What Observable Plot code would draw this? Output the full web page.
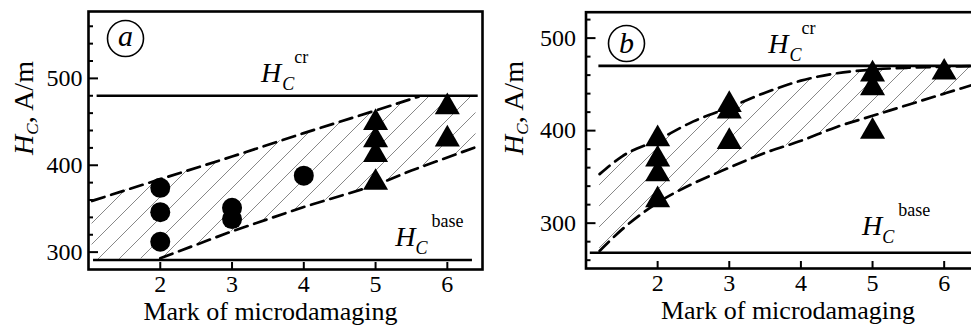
<!DOCTYPE html>
<html><head><meta charset="utf-8">
<script src="https://cdn.jsdelivr.net/npm/d3@7"></script>
<script src="https://cdn.jsdelivr.net/npm/@observablehq/plot@0.6"></script>
<style>
html,body{margin:0;padding:0;background:#fff;overflow:hidden}
#wrap{position:relative;width:971px;height:327px;overflow:hidden;background:#fff}
#pa{position:absolute;left:0;top:0;width:490px;height:327px}
#pb{position:absolute;left:490px;top:0;width:490px;height:327px}
svg text{font-family:"Liberation Serif","DejaVu Serif",serif}
</style></head><body>
<svg width="0" height="0" style="position:absolute">
<defs>
<pattern id="hatch" patternUnits="userSpaceOnUse" width="21" height="21">
<path d="M-2,2 L2,-2 M0,21 L21,0 M19,23 L23,19" stroke="#6a6a6a" stroke-width="0.8" fill="none"/>
</pattern></defs></svg>
<div id="wrap"><div id="pa"></div><div id="pb"></div></div>
<script>
// ---------- shared ----------
const xTicks = [2, 3, 4, 5, 6];
const xTitle = "Mark of microdamaging";

// ---------- panel a ----------
const aCircX = [2, 2, 2, 3, 3, 4];
const aCircY = [374, 346, 312, 351, 338, 388];
const aTriX = [5, 5, 5, 5, 6, 6];
const aTriY = [449, 429, 412, 380, 467, 430];
const aUpperX = [1.05, 2, 3, 4, 5, 5.6];
const aUpperY = [359, 384, 410, 437, 463, 479];
const aLowerX = [2, 3, 4, 5, 5.5, 6.4];
const aLowerY = [293, 324, 352, 377, 394, 421];
const aHatchX = [1.05, 2, 3, 4, 5, 5.6, 6.4];
const aHatchTop = [359, 384, 410, 437, 463, 480, 480];
const aHatchBottom = [291, 293, 324, 352, 377, 397, 421];
const aCr = {y: 480, x1: 1.12, x2: 6.43};
const aBase = {y: 291, x1: 1.07, x2: 6.35};
const aYTicks = [300, 400, 500];
const aYMinor = [320, 340, 360, 380, 420, 440, 460, 480, 520, 540, 560];
const aCrLabel = [3.41, 495];
const aBaseLabel = [5.28, 306.5];

// ---------- panel b ----------
const bTriX = [2, 2, 2, 2, 3, 3, 3, 5, 5, 5, 6];
const bTriY = [391, 369, 353, 325, 428, 421, 388, 461, 446, 399, 463];
const bCurveX = [1.19, 1.5, 2, 2.5, 3, 3.5, 4, 4.5, 5, 5.5, 6, 6.5];
const bUpperY = [353, 372, 390, 410, 425, 441, 454, 462, 466, 468, 469, 470];
const bLowerY = [270, 293, 322, 343, 360, 376, 389, 404, 416, 428, 440, 452];
const bCr = {y: 470, x1: 1.18, x2: 6.5};
const bBase = {y: 268, x1: 1.06, x2: 6.5};
const bYTicks = [300, 400, 500];
const bYMinor = [260, 280, 320, 340, 360, 380, 420, 440, 460, 480, 520];
const bCrLabel = [3.55, 483.4];
const bBaseLabel = [4.86, 286.5];

const FONT = "Liberation Serif, DejaVu Serif, serif";

function panel(o) {
  const fw = o.width - o.marginLeft - o.marginRight;
  const fh = o.height - o.marginTop - o.marginBottom;
  const pts = (xs, ys) => xs.map((x, i) => ({x, y: ys[i]}));
  const chart = Plot.plot({
    width: o.width, height: o.height,
    marginLeft: o.marginLeft, marginRight: o.marginRight,
    marginTop: o.marginTop, marginBottom: o.marginBottom,
    x: {domain: o.xDomain},
    y: {domain: o.yDomain},
    style: {fontFamily: FONT, fontSize: "24px", color: "black", background: "transparent", maxWidth: "none"},
    marks: [
      Plot.areaY(o.hatchX.map((x, i) => ({x, y1: o.hatchBottom[i], y2: o.hatchTop[i]})),
        {x: "x", y1: "y1", y2: "y2", fill: "url(#hatch)", curve: o.curve}),
      Plot.ruleY([o.cr, o.base], {y: "y", x1: "x1", x2: "x2", stroke: "black", strokeWidth: 2.6}),
      Plot.line(pts(o.upperX, o.upperY), {x: "x", y: "y", stroke: "black", strokeWidth: 2.7, strokeDasharray: "13,7", curve: o.curve}),
      Plot.line(pts(o.lowerX, o.lowerY), {x: "x", y: "y", stroke: "black", strokeWidth: 2.7, strokeDasharray: "13,7", curve: o.curve}),
      o.circX ? Plot.dot(pts(o.circX, o.circY), {x: "x", y: "y", r: 10, fill: "black", symbol: "circle"}) : null,
      Plot.dot(pts(o.triX, o.triY), {x: "x", y: "y", r: 9.3, fill: "black", symbol: "triangle"}),
      Plot.ruleY(o.yTicks, {stroke: "black", strokeWidth: 2, insetRight: fw - 10}),
      Plot.ruleY(o.yMinor, {stroke: "black", strokeWidth: 2, insetRight: fw - 5}),
      Plot.ruleX(xTicks, {stroke: "black", strokeWidth: 2, insetTop: fh - 7}),
      Plot.axisY(o.yTicks, {anchor: "left", tickSize: 0, tickPadding: o.yPad, fontSize: 24, fontFamily: FONT, label: null}),
      Plot.axisX(xTicks, {anchor: "bottom", tickSize: 0, tickPadding: 5, fontSize: 24, fontFamily: FONT, label: null}),
      Plot.frame({stroke: "black", strokeWidth: 2.6}),
      Plot.dot([0], {frameAnchor: "top-left", dx: o.circDx, dy: o.circDy, r: 18, stroke: "black", strokeWidth: 1.6, fill: "white"}),
      Plot.text([o.letter], {frameAnchor: "top-left", textAnchor: "middle", lineAnchor: "middle", dx: o.circDx, dy: o.circDy + o.letterDy, fontSize: 30, fontStyle: "italic", fontFamily: FONT, fill: "black"}),
      Plot.text([xTitle], {frameAnchor: "bottom", textAnchor: "middle", dx: o.titleDx, dy: 50, lineAnchor: "bottom", fontSize: 26, fontFamily: FONT, fill: "black"})
    ].filter(Boolean)
  });
  const sx = chart.scale("x"), sy = chart.scale("y");
  const svg = d3.select(chart);
  function hLabel([x, y], sup, cDx, supDx) {
    const t = svg.append("text")
      .attr("x", sx.apply(x)).attr("y", sy.apply(y)).attr("text-anchor", "start")
      .attr("font-family", FONT).attr("fill", "black");
    t.append("tspan").attr("font-style", "italic").attr("font-size", 28).text("H");
    t.append("tspan").attr("font-style", "italic").attr("font-size", 18).attr("dx", cDx).attr("dy", 8).text("C");
    t.append("tspan").attr("font-size", 18).attr("dx", supDx).attr("dy", -27).text(sup);
  }
  hLabel(o.crLabel, "cr", 1, 0);
  hLabel(o.baseLabel, "base", 0, 4);
  // y title
  const yt = svg.append("text")
    .attr("transform", `translate(${o.yTitleX},${o.yTitleY}) rotate(-90)`)
    .attr("text-anchor", "middle").attr("font-family", FONT).attr("font-size", 28).attr("fill", "black");
  yt.append("tspan").attr("font-style", "italic").text("H");
  yt.append("tspan").attr("font-style", "italic").attr("font-size", 17).attr("dy", 5).text("C");
  yt.append("tspan").attr("dy", -5).text(", A/m");
  return chart;
}

const A = panel({
  width: 490, height: 327, marginLeft: 88, marginRight: 8, marginTop: 11, marginBottom: 58,
  xDomain: [1, 6.49], yDomain: [280, 577], curve: "linear",
  hatchX: aHatchX, hatchTop: aHatchTop, hatchBottom: aHatchBottom,
  upperX: aUpperX, upperY: aUpperY, lowerX: aLowerX, lowerY: aLowerY,
  circX: aCircX, circY: aCircY, triX: aTriX, triY: aTriY,
  cr: aCr, base: aBase, yTicks: aYTicks, yMinor: aYMinor, yPad: 6,
  circDx: 37, circDy: 27, letter: "a", letterDy: -2, titleDx: -15,
  crLabel: aCrLabel, baseLabel: aBaseLabel, yTitleX: 33, yTitleY: 108
});
document.getElementById("pa").appendChild(A);

const B = panel({
  width: 490, height: 327, marginLeft: 95.5, marginRight: 0.5, marginTop: 11.7, marginBottom: 59,
  xDomain: [1, 6.5], yDomain: [251, 528], curve: "monotone-x",
  hatchX: bCurveX, hatchTop: bUpperY, hatchBottom: bLowerY,
  upperX: bCurveX, upperY: bUpperY, lowerX: bCurveX, lowerY: bLowerY,
  circX: null, circY: null, triX: bTriX, triY: bTriY,
  cr: bCr, base: bBase, yTicks: bYTicks, yMinor: bYMinor, yPad: 10,
  circDx: 40.5, circDy: 31.3, letter: "b", letterDy: 0, titleDx: 5,
  crLabel: bCrLabel, baseLabel: bBaseLabel, yTitleX: 33, yTitleY: 108
});
document.getElementById("pb").appendChild(B);
</script>
</body></html>
